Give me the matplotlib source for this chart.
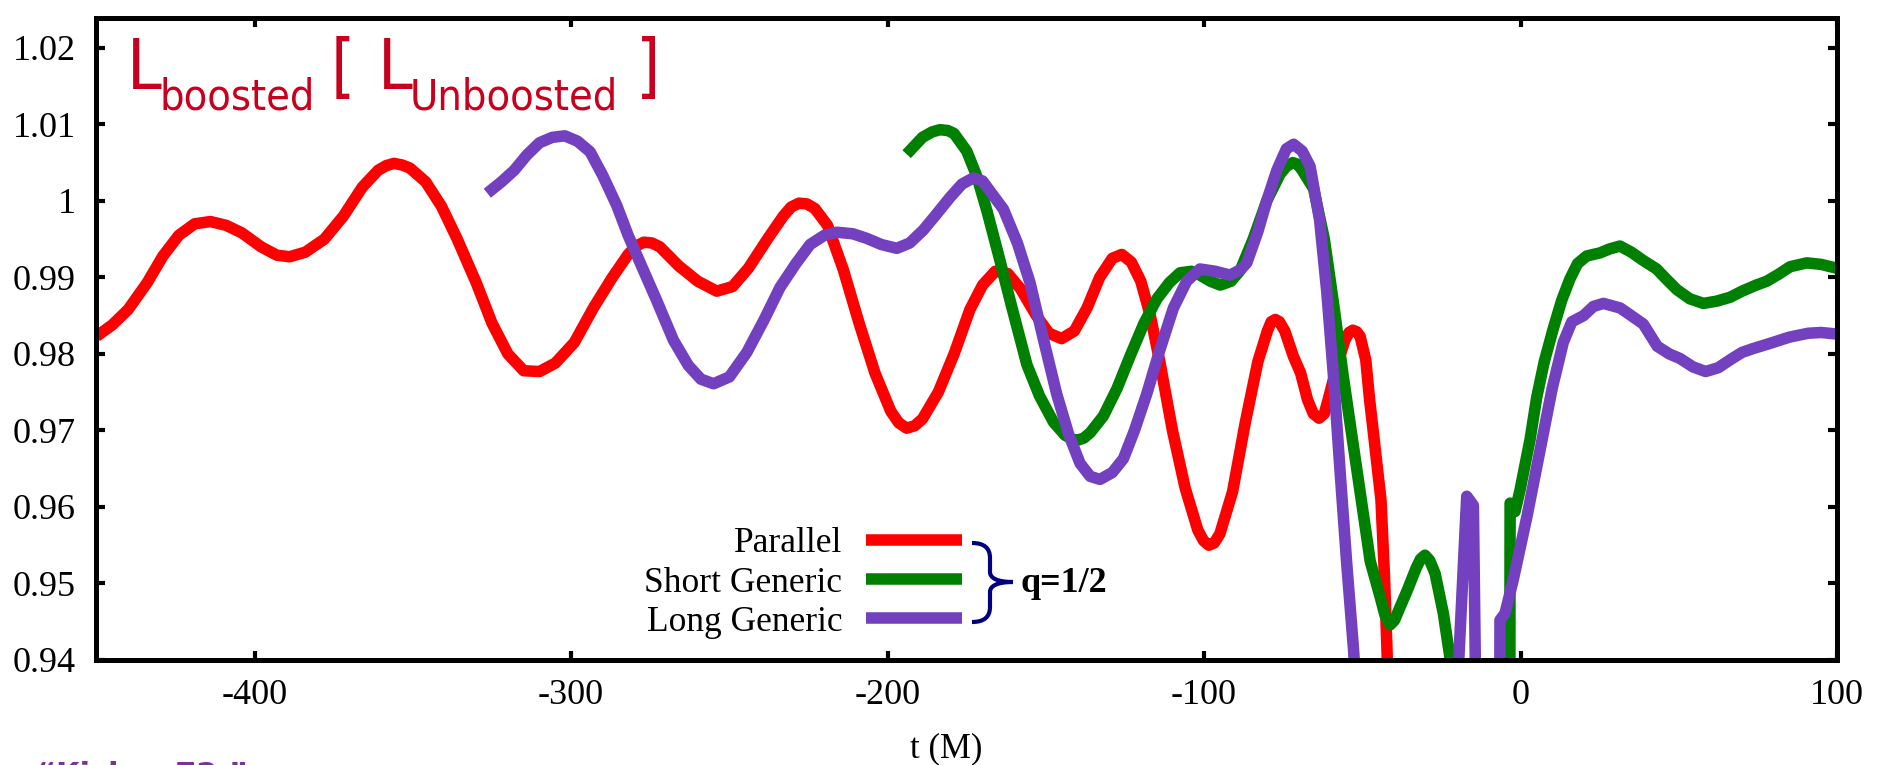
import matplotlib
matplotlib.use("Agg")
import matplotlib.pyplot as plt
from matplotlib.path import Path
from matplotlib.patches import PathPatch
from matplotlib import font_manager as fm

# ---------------- data ----------------
t_parallel = [-450, -445, -440, -434, -429, -424, -419, -414, -409, -404, -398, -393, -389, -384, -378,
              -372, -366, -361, -358.5, -356, -353.5, -351, -346, -341, -336, -330, -325, -320, -315,
              -310, -305, -299, -293, -287, -282, -279.5, -277, -274.5, -272, -266, -260, -254, -249,
              -244, -238, -233, -230.5, -228, -225.5, -223, -219, -214, -209, -204, -199, -196.5, -194,
              -191.5, -189, -184, -179, -174, -170, -166, -162, -158, -153, -149, -145, -141, -137, -133,
              -129, -126, -123, -120, -117, -114, -110, -106, -102, -100.2, -98.5, -96.8, -95, -91, -87,
              -83, -80, -78.8, -77.5, -76.2, -74.5, -71.8, -69.5, -67.3, -65.5, -63.7, -62, -60.8, -57.8,
              -55.5, -54.2, -53, -51.8, -50.7, -48.9, -47.7, -46.5, -45.3, -44.1, -43, -42.1, -41.5]
L_parallel = [0.9823, 0.9838, 0.9858, 0.9893, 0.9928, 0.9955, 0.9970, 0.9973, 0.9968, 0.9958, 0.9940,
              0.9929, 0.9927, 0.9933, 0.9950, 0.9980, 1.0018, 1.0040, 1.0046, 1.0049, 1.0047, 1.0043,
              1.0025, 0.9993, 0.9950, 0.9893, 0.9840, 0.9800, 0.9778, 0.9777, 0.9788, 0.9815, 0.9860,
              0.9900, 0.9930, 0.9941, 0.9946, 0.9945, 0.9940, 0.9915, 0.9895, 0.9882, 0.9888, 0.9912,
              0.9950, 0.9980, 0.9992, 0.9997, 0.9996, 0.9990, 0.9968, 0.9910, 0.9840, 0.9775, 0.9725,
              0.9710, 0.9703, 0.9706, 0.9715, 0.9750, 0.9800, 0.9858, 0.9890, 0.9908, 0.9905, 0.9885,
              0.9850, 0.9827, 0.9820, 0.9830, 0.9860, 0.9900, 0.9925, 0.9930, 0.9920, 0.9895, 0.9850,
              0.9790, 0.9700, 0.9625, 0.9570, 0.9556, 0.9550, 0.9553, 0.9565, 0.9620, 0.9710, 0.9790,
              0.9830, 0.9842, 0.9845, 0.9842, 0.9830, 0.9797, 0.9775, 0.9740, 0.9722, 0.9716, 0.9722,
              0.9740, 0.9788, 0.9818, 0.9828, 0.9831, 0.9829, 0.9823, 0.9792, 0.9740, 0.9697, 0.9653,
              0.9609, 0.9510, 0.9400, 0.9300]

t_short = [-194, -189, -186, -183.5, -181, -179, -175, -171.8, -168.5, -165, -161, -156, -152, -147.6,
           -144, -142, -140.2, -138, -136, -131.8, -127.5, -123.4, -119, -114.9, -111, -107.6, -104,
           -101.3, -98, -94.9, -91.5, -88.6, -84.5, -80.2, -76, -74, -72, -70.5, -69, -65.4, -62, -59.1,
           -56, -52.8, -50, -47.5, -44.4, -42.8, -41.2, -39.8, -38.5, -35.9, -33, -31.6, -30.2, -28.7,
           -27.0, -24.4, -22.3, -21.5, -3.4, -3.3, -1.75, -0.17, 3.0, 5.1, 7.5, 10.4, 13, 15.6, 18, 20.9,
           25.1, 28, 31.4, 35, 38.8, 43, 46, 49.4, 53.5, 57.8, 62, 66.2, 70, 74.5, 77.8, 81.5, 85.2,
           90.5, 95, 99.9]
L_short = [1.0061, 1.0083, 1.0090, 1.0093, 1.0092, 1.0088, 1.0065, 1.0032, 0.9985, 0.9930, 0.9865,
           0.9786, 0.9745, 0.9711, 0.9694, 0.9689, 0.9687, 0.9690, 0.9697, 0.9719, 0.9755, 0.9797,
           0.9840, 0.9872, 0.9893, 0.9906, 0.9908, 0.9903, 0.9895, 0.9890, 0.9895, 0.9909, 0.9950,
           1.0000, 1.0035, 1.0045, 1.0050, 1.0048, 1.0040, 1.0016, 0.9950, 0.9866, 0.9770, 0.9679,
           0.9600, 0.9529, 0.9483, 0.9458, 0.9446, 0.9452, 0.9465, 0.9490, 0.9520, 0.9532, 0.9537,
           0.9530, 0.9513, 0.9461, 0.9403, 0.9300, 0.9300, 0.9605, 0.9594, 0.9622, 0.9688, 0.9743,
           0.9790, 0.9834, 0.9870, 0.9898, 0.9918, 0.9928, 0.9932, 0.9937, 0.9941, 0.9933, 0.9922,
           0.9911, 0.9898, 0.9884, 0.9872, 0.9866, 0.9869, 0.9874, 0.9882, 0.9890, 0.9895, 0.9904,
           0.9914, 0.9919, 0.9917, 0.9912]

t_long = [-326.5, -322, -318, -314, -310, -306, -302, -298, -294, -290, -285.6, -282, -278.2, -273,
          -267.7, -263, -259, -255, -250, -244.5, -239, -234, -229, -224.5, -220, -216, -211, -206.6,
          -202, -197.1, -193, -188.7, -184.5, -180.2, -176.5, -172.9, -170, -166.8, -163.4, -159, -155,
          -151, -146.6, -142.8, -139.2, -136, -132.9, -129, -125.5, -122, -118.1, -114, -109.7, -105.5,
          -101.3, -96.5, -91.8, -88.5, -86.5, -83, -80.2, -77, -74, -71.7, -69, -66.5, -63.5, -61.2,
          -59, -57, -55, -52.8, -51.0, -20.7, -17.0, -14.9, -14.0, -6.6, -6.5, -4.9, -2.3, 2.0, 6.2,
          10, 13.5, 16.2, 19.9, 23, 26.2, 31.5, 35, 38.8, 43.2, 47, 50.4, 54.5, 58.5, 62.5, 66.5, 70,
          73.5, 79, 85, 90.9, 95, 99.9]
L_long = [1.0010, 1.0025, 1.0040, 1.0060, 1.0076, 1.0083, 1.0085, 1.0078, 1.0064, 1.0033, 0.9994,
          0.9955, 0.9919, 0.9870, 0.9818, 0.9785, 0.9767, 0.9761, 0.9770, 0.9802, 0.9845, 0.9887,
          0.9918, 0.9943, 0.9955, 0.9959, 0.9957, 0.9951, 0.9943, 0.9938, 0.9945, 0.9962, 0.9983,
          1.0005, 1.0022, 1.0030, 1.0026, 1.0008, 0.9989, 0.9945, 0.9893, 0.9823, 0.9748, 0.9695,
          0.9657, 0.9640, 0.9636, 0.9645, 0.9663, 0.9700, 0.9748, 0.9805, 0.9860, 0.9895, 0.9911,
          0.9908, 0.9903, 0.9910, 0.9919, 0.9960, 1.0000, 1.0040, 1.0068, 1.0074, 1.0065, 1.0045,
          0.9975, 0.9880, 0.9765, 0.9645, 0.9530, 0.9415, 0.9300, 0.9300, 0.9614, 0.9602, 0.9300,
          0.9300, 0.9452, 0.9461, 0.9505, 0.9587, 0.9675, 0.9755, 0.9815, 0.9842, 0.9850, 0.9862,
          0.9866, 0.9860, 0.9850, 0.9839, 0.9810, 0.9800, 0.9794, 0.9783, 0.9777, 0.9782, 0.9793,
          0.9802, 0.9807, 0.9814, 0.9822, 0.9827, 0.9828, 0.9826]

series_labels = ["Parallel", "Short Generic", "Long Generic"]
series_colors = ["#ff0000", "#008000", "#7340c0"]

x_ticks = [-400, -300, -200, -100, 0, 100]
x_tick_labels = ["-400", "-300", "-200", "-100", "0", "100"]
y_ticks = [0.94, 0.95, 0.96, 0.97, 0.98, 0.99, 1.00, 1.01, 1.02]
y_tick_labels = ["0.94", "0.95", "0.96", "0.97", "0.98", "0.99", "1", "1.01", "1.02"]

x_label = "t (M)"
group_label = "q=1/2"

# ---------------- figure ----------------
W, H, DPI = 1890, 765, 100
plt.rcParams['axes.unicode_minus'] = False
plt.rcParams['font.family'] = ['Liberation Serif', 'DejaVu Serif']

fig = plt.figure(figsize=(W / DPI, H / DPI), dpi=DPI)
fig.patch.set_facecolor('white')


def fp(X, Y):
    """full-size pixel position -> figure fraction"""
    return (X / W, 1 - Y / H)


ax = fig.add_axes([96.5 / W, 1 - 660 / H, 1740.5 / W, 642 / H])
ax.set_xlim(-450, 100)
ax.set_ylim(0.94, 1.0239)

series = [(t_parallel, L_parallel), (t_short, L_short), (t_long, L_long)]
for (tt, LL), lab, col in zip(series, series_labels, series_colors):
    ax.plot(tt, LL, color=col, lw=8.3, label=lab,
            solid_joinstyle='round', solid_capstyle='butt')

ax.set_xticks(x_ticks)
ax.set_xticklabels(x_tick_labels)
ax.set_yticks(y_ticks)
ax.set_yticklabels(y_tick_labels)
ax.minorticks_off()
ax.tick_params(direction='in', length=6.5, width=3, top=True, right=True,
               labelsize=26, colors='black')
ax.tick_params(axis='x', pad=14)
ax.tick_params(axis='y', pad=15)
for sp in ax.spines.values():
    sp.set_linewidth(3.6)
    sp.set_color('black')

ax.set_xlabel(x_label, fontsize=25)
ax.xaxis.label.set_va('baseline')
ax.xaxis.set_label_coords((946 - 96.5) / 1740.5, (660 - 757) / 642)

leg = ax.legend(loc='center right', bbox_to_anchor=((962 - 96.5) / 1740.5, (660 - 583) / 642),
                markerfirst=False, frameon=False, fontsize=25.5, handlelength=2.7,
                handletextpad=0.68, labelspacing=0.17, borderpad=0, borderaxespad=0)
for ln in leg.get_lines():
    ln.set_linewidth(8.3)

# brace grouping the legend entries
verts = [fp(972, 543), fp(984, 543), fp(990, 548), fp(990, 558),
         fp(990, 572),
         fp(990, 578), fp(997, 582), fp(1013, 582),
         fp(997, 582), fp(990, 586), fp(990, 592),
         fp(990, 607),
         fp(990, 617), fp(984, 622), fp(972, 622)]
codes = [Path.MOVETO, Path.CURVE4, Path.CURVE4, Path.CURVE4,
         Path.LINETO,
         Path.CURVE4, Path.CURVE4, Path.CURVE4,
         Path.CURVE4, Path.CURVE4, Path.CURVE4,
         Path.LINETO,
         Path.CURVE4, Path.CURVE4, Path.CURVE4]
fig.add_artist(PathPatch(Path(verts, codes), transform=fig.transFigure, fill=False,
                         edgecolor='#000080', lw=3, capstyle='butt'))
fig.text(*fp(1021, 592), group_label, fontsize=26, fontweight='bold',
         ha='left', va='baseline', color='black')

# red overlay heading (condensed sans if available)
red = '#c8001e'
cond = [f for f in fm.fontManager.ttflist
        if 'DejaVu Sans' in f.name and ('Condensed' in f.name or f.stretch == 'condensed')
        and f.style == 'normal' and f.weight in (400, 'normal', 'regular', 'book')]
if cond:
    def sans(size):
        return fm.FontProperties(fname=cond[0].fname, size=size)
    big, small = 50, 31
else:
    def sans(size):
        return fm.FontProperties(family='DejaVu Sans', size=size)
    big, small = 50, 27

fig.text(*fp(127, 89), "L", fontproperties=sans(big), color=red, ha='left', va='baseline')
fig.text(*fp(160, 110), "boosted", fontproperties=sans(small), color=red, ha='left', va='baseline')
fig.text(*fp(331, 89), "[", fontproperties=sans(big), color=red, ha='left', va='baseline')
fig.text(*fp(378, 89), "L", fontproperties=sans(big), color=red, ha='left', va='baseline')
fig.text(*fp(410, 110), "Unboosted", fontproperties=sans(small), color=red, ha='left', va='baseline')
fig.text(*fp(636, 89), "]", fontproperties=sans(big), color=red, ha='left', va='baseline')

# purple note cut off at the bottom-left edge (as in the reference)
fig.text(*fp(36, 784), "\u201cKick = 72 \u201d", fontsize=22, fontweight='bold',
         color='#7d2ea0', family=['DejaVu Sans'], ha='left', va='baseline')

fig.savefig('out.png', dpi=DPI)
